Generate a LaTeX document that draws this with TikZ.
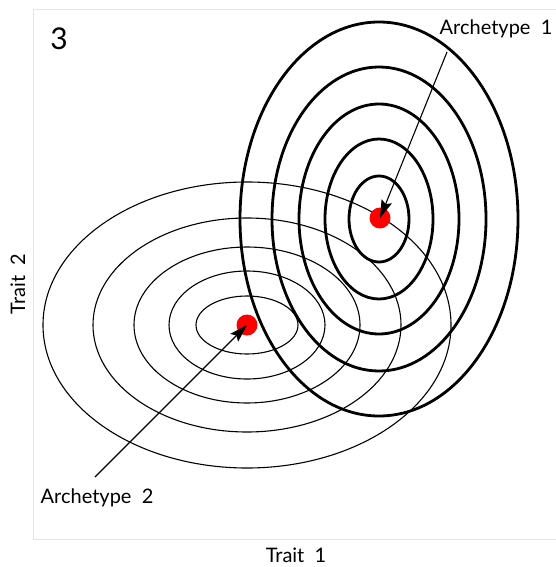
\documentclass[tikz,border=0pt]{standalone}
\usepackage{fontspec}
\setmainfont{Lato}
\usetikzlibrary{arrows.meta}
\begin{document}
\begin{tikzpicture}[x=1pt,y=-1pt,
  frame/.style={draw=black!10,line width=1pt},
  thinring/.style={draw=black,line width=1.1pt},
  thickring/.style={draw=black,line width=2.8pt},
  centre/.style={circle,fill=red,inner sep=0pt,minimum size=21pt},
  lbl/.style={font=\fontsize{20}{22}\selectfont,inner sep=0pt},
  pointer/.style={draw=black,line width=1.1pt,-{Stealth[length=18pt,width=11pt,inset=3pt]}}]
  \useasboundingbox (0,0) rectangle (556,567);
  % plot frame
  \draw[frame] (33,539) -- (33,10) -- (560,10);
  \draw[frame] (33,539) -- (560,539);
  % second archetype: thin contours
  \foreach \rx/\ry in {204/143,154/107,113/78,78/54,51/29}
    \draw[thinring] (247,325) ellipse [x radius=\rx pt,y radius=\ry pt];
  % first archetype: thick contours
  \foreach \rx/\ry in {139/197,107/152,80/115,54/80,30/43}
    \draw[thickring] (379,219) ellipse [x radius=\rx pt,y radius=\ry pt];
  % archetype centres
  \node[centre] (c1) at (380,218) {};
  \node[centre] (c2) at (247,325) {};
  % labels
  \node[font=\fontsize{30}{32}\selectfont,inner sep=0pt] (panel) at (59,39) {3};
  \node[lbl] (a1) at (496,29) {Archetype\ \ 1};
  \node[lbl] (a2) at (97,498) {Archetype\ \ 2};
  \node[lbl] (t1) at (296,555) {Trait\ \ 1};
  \node[lbl,rotate=90] (t2) at (18,284) {Trait\ \ 2};
  % pointers
  \coordinate (p1) at (447,52);
  \coordinate (p2) at (95,477);
  \draw[pointer] (p1) -- (c1.center);
  \draw[pointer] (p2) -- (c2.center);
\end{tikzpicture}
\end{document}
